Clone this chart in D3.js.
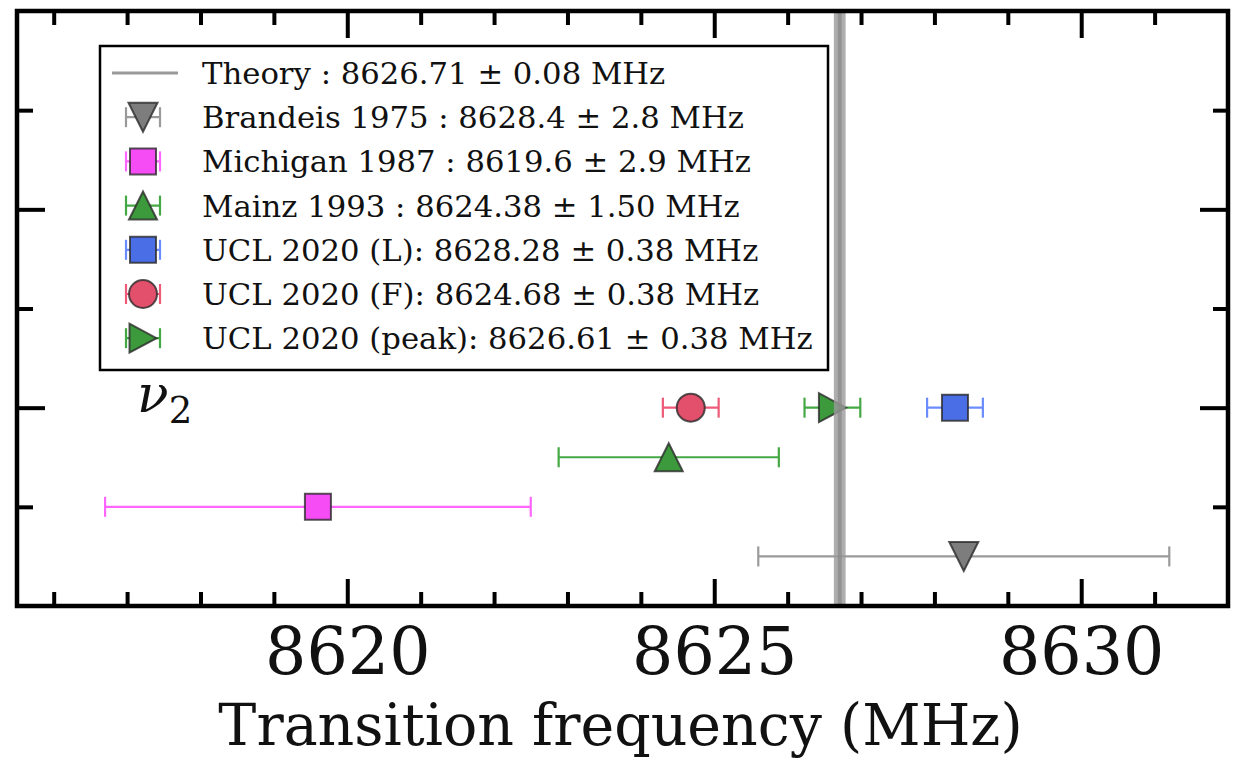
<!DOCTYPE html>
<html>
<head>
<meta charset="utf-8">
<script src="https://cdn.jsdelivr.net/npm/d3@7"></script>
<style>
  html, body { margin: 0; padding: 0; background: #fff; }
  svg { display: block; }
  text { font-family: "DejaVu Serif", serif; fill: #111; }
</style>
</head>
<body>
<svg id="chart" width="1243" height="765"></svg>
<script>
// Measurements of the nu_2 transition frequency (MHz)
const labels = [
  "Brandeis 1975 : 8628.4 \u00b1 2.8 MHz",
  "Michigan 1987 : 8619.6 \u00b1 2.9 MHz",
  "Mainz 1993 : 8624.38 \u00b1 1.50 MHz",
  "UCL 2020 (L): 8628.28 \u00b1 0.38 MHz",
  "UCL 2020 (F): 8624.68 \u00b1 0.38 MHz",
  "UCL 2020 (peak): 8626.61 \u00b1 0.38 MHz"
];
const values = [8628.4, 8619.6, 8624.38, 8628.28, 8624.68, 8626.61];
const errors = [2.8, 2.9, 1.50, 0.38, 0.38, 0.38];
const rows   = [0.5, 1, 1.5, 2, 2, 2];
const shapes = ["down", "square", "up", "square", "circle", "right"];
const fills  = ["#7d7d7d", "#f64cf6", "#3c9a3c", "#4a6ee6", "#e2506c", "#3c9a3c"];
const errColors = ["#9a9a9a", "#ff66ff", "#44a844", "#6a8cff", "#ee5a78", "#44a844"];

const theoryValue = 8626.71;
const theoryError = 0.08;
const theoryLabel = "Theory : 8626.71 \u00b1 0.08 MHz";

const xMajorTicks = [8620, 8625, 8630];
const xMinorTicks = [8616, 8617, 8618, 8619, 8621, 8622, 8623, 8624, 8626, 8627, 8628, 8629, 8631];
const yMajorTicks = [2, 4];
const yMinorTicks = [1, 3, 5];
const xTitle = "Transition frequency (MHz)";

const svg = d3.select("#chart");
const L = 17, R = 1228, T = 11, B = 606;

const x = d3.scaleLinear().domain([8615.5, 8632]).range([L, R]);
const y = d3.scaleLinear().domain([0, 6]).range([B, T]);

// marker outline path around (cx, cy)
function markerPath(shape, cx, cy) {
  const p = d3.path();
  if (shape === "circle") {
    p.arc(cx, cy, 14, 0, 2 * Math.PI);
  } else if (shape === "square") {
    const s = 13;
    p.rect(cx - s, cy - s, 2 * s, 2 * s);
  } else if (shape === "down") {
    const w = 14.5, h = 14.5;
    p.moveTo(cx - w, cy - h); p.lineTo(cx + w, cy - h); p.lineTo(cx, cy + h); p.closePath();
  } else if (shape === "up") {
    const w = 14, h = 14;
    p.moveTo(cx - w, cy + h); p.lineTo(cx + w, cy + h); p.lineTo(cx, cy - h); p.closePath();
  } else if (shape === "right") {
    const w = 13.5, h = 14.5;
    p.moveTo(cx - w, cy - h); p.lineTo(cx - w, cy + h); p.lineTo(cx + w, cy); p.closePath();
  }
  return p.toString();
}

function drawErrorBar(g, x0, x1, cy, color) {
  g.append("line").attr("x1", x0).attr("x2", x1).attr("y1", cy).attr("y2", cy)
    .attr("stroke", color).attr("stroke-width", 2.2);
  [x0, x1].forEach(xx => g.append("line")
    .attr("x1", xx).attr("x2", xx).attr("y1", cy - 10).attr("y2", cy + 10)
    .attr("stroke", color).attr("stroke-width", 2.2));
}

function drawMarker(g, shape, cx, cy, fill) {
  g.append("path").attr("d", markerPath(shape, cx, cy))
    .attr("fill", fill).attr("stroke", "#2a2a2a").attr("stroke-opacity", 0.8)
    .attr("stroke-width", 2);
}

// data points with horizontal error bars
const data = values.map((v, i) => ({
  v, e: errors[i], row: rows[i], shape: shapes[i], fill: fills[i], ec: errColors[i]
}));
const pts = svg.append("g");
data.forEach(d => {
  const g = pts.append("g");
  drawErrorBar(g, x(d.v - d.e), x(d.v + d.e), y(d.row), d.ec);
  drawMarker(g, d.shape, x(d.v), y(d.row), d.fill);
});

// theory value with its uncertainty band
svg.append("rect")
  .attr("x", x(theoryValue - theoryError)).attr("y", T)
  .attr("width", x(theoryValue + theoryError) - x(theoryValue - theoryError))
  .attr("height", B - T)
  .attr("fill", "#9a9a9a").attr("opacity", 0.8);
svg.append("line")
  .attr("x1", x(theoryValue)).attr("x2", x(theoryValue))
  .attr("y1", T).attr("y2", B)
  .attr("stroke", "#888").attr("stroke-width", 4).attr("opacity", 0.7);

// axes: ticks point inward on all four sides
function styleAxis(g) {
  g.select(".domain").remove();
  g.selectAll(".tick line").attr("stroke", "#000").attr("stroke-width", 4);
}
svg.append("g").attr("transform", `translate(0,${B})`)
  .call(d3.axisBottom(x).tickValues(xMinorTicks).tickSize(-14).tickFormat(""))
  .call(styleAxis);
svg.append("g").attr("transform", `translate(0,${B})`)
  .call(d3.axisBottom(x).tickValues(xMajorTicks).tickSize(-27).tickPadding(22).tickFormat(d3.format("d")))
  .call(styleAxis)
  .call(g => g.selectAll(".tick text")
    .attr("font-family", "DejaVu Serif, serif").attr("font-size", 65).attr("fill", "#111"));
svg.append("g").attr("transform", `translate(0,${T})`)
  .call(d3.axisTop(x).tickValues(xMinorTicks).tickSize(-14).tickFormat(""))
  .call(styleAxis);
svg.append("g").attr("transform", `translate(0,${T})`)
  .call(d3.axisTop(x).tickValues(xMajorTicks).tickSize(-27).tickFormat(""))
  .call(styleAxis);
svg.append("g").attr("transform", `translate(${L},0)`)
  .call(d3.axisLeft(y).tickValues(yMinorTicks).tickSize(-16).tickFormat(""))
  .call(styleAxis);
svg.append("g").attr("transform", `translate(${L},0)`)
  .call(d3.axisLeft(y).tickValues(yMajorTicks).tickSize(-28).tickFormat(""))
  .call(styleAxis);
svg.append("g").attr("transform", `translate(${R},0)`)
  .call(d3.axisRight(y).tickValues(yMinorTicks).tickSize(-15).tickFormat(""))
  .call(styleAxis);
svg.append("g").attr("transform", `translate(${R},0)`)
  .call(d3.axisRight(y).tickValues(yMajorTicks).tickSize(-28).tickFormat(""))
  .call(styleAxis);

// plot frame
svg.append("rect").attr("x", L).attr("y", T).attr("width", R - L).attr("height", B - T)
  .attr("fill", "none").attr("stroke", "#000").attr("stroke-width", 4.5);

// x-axis title
svg.append("text").attr("x", (L + R) / 2 - 2).attr("y", 745)
  .attr("text-anchor", "middle").attr("font-size", 57).text(xTitle);

// band label
const nu = svg.append("text").attr("x", 137).attr("y", 412)
  .attr("font-family", "DejaVu Serif, serif");
nu.append("tspan").attr("font-style", "italic").attr("font-size", 52).text("\u03bd");
nu.append("tspan").attr("font-size", 37).attr("dy", 11).attr("dx", 0).text("2");

// legend
const leg = svg.append("g");
leg.append("rect").attr("x", 100).attr("y", 46).attr("width", 728).attr("height", 324)
  .attr("fill", "#fff").attr("stroke", "#000").attr("stroke-width", 2.5);
const rowY = i => 73 + i * 44.2;
const mx = 143;
leg.append("line").attr("x1", 112).attr("x2", 178).attr("y1", rowY(0)).attr("y2", rowY(0))
  .attr("stroke", "#999").attr("stroke-width", 3);
leg.append("text").attr("x", 202).attr("y", rowY(0) + 11).attr("font-size", 30.7).text(theoryLabel);
data.forEach((d, i) => {
  const cy = rowY(i + 1);
  const g = leg.append("g");
  drawErrorBar(g, mx - 17, mx + 17, cy, d.ec);
  drawMarker(g, d.shape, mx, cy, d.fill);
  leg.append("text").attr("x", 202).attr("y", cy + 11).attr("font-size", 30.7).text(labels[i]);
});
</script>
</body>
</html>
